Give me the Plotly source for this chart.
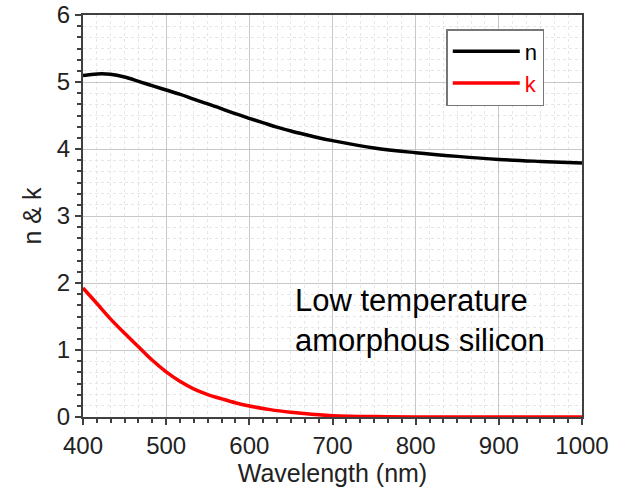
import plotly.graph_objects as go

wl_n = [400, 417, 433, 450, 467, 483, 500, 517, 533, 550, 567, 583, 600, 617, 633,
        650, 667, 683, 700, 750, 800, 850, 900, 950, 1000]
n_vals = [5.095, 5.12, 5.115, 5.075, 5.01, 4.945, 4.88, 4.815, 4.745, 4.673, 4.60, 4.527,
          4.457, 4.39, 4.327, 4.269, 4.216, 4.168, 4.125, 4.015, 3.945, 3.89, 3.845, 3.815, 3.79]

wl_k = [400, 417, 433, 450, 467, 483, 500, 517, 533, 550, 567, 583, 600, 625, 650,
        675, 700, 750, 800, 900, 1000]
k_vals = [1.925, 1.69, 1.465, 1.25, 1.045, 0.85, 0.675, 0.53, 0.42, 0.335, 0.27, 0.213,
          0.165, 0.11, 0.07, 0.04, 0.02, 0.006, 0.001, 0.0, 0.0]

x_ticks = [400, 500, 600, 700, 800, 900, 1000]
y_ticks = [0, 1, 2, 3, 4, 5, 6]

FONT = "Liberation Sans, Arial, sans-serif"

fig = go.Figure()
fig.add_trace(go.Scatter(x=wl_n, y=n_vals, mode="lines", name="n",
                         line=dict(color="black", width=3.5, shape="spline", smoothing=1)))
fig.add_trace(go.Scatter(x=wl_k, y=k_vals, mode="lines",
                         name="<span style='color:#ff0000'>k</span>",
                         line=dict(color="#ff0000", width=3.5, shape="spline", smoothing=1)))

fig.add_annotation(x=652, y=1.435, xref="x", yref="y", xanchor="left", yanchor="middle",
                   text="Low temperature<br>amorphous silicon", showarrow=False, align="left",
                   font=dict(family=FONT, size=31, color="black"))

axis_common = dict(
    showline=True, linecolor="#404040", linewidth=2, mirror=True,
    ticks="outside", ticklen=6, tickwidth=2, tickcolor="#404040",
    showgrid=True, gridcolor="#c8c8c8", gridwidth=1,
    tickfont=dict(family=FONT, size=24, color="#222"),
    zeroline=False, automargin=False,
)

fig.update_xaxes(range=[400, 1000], tickvals=x_ticks,
                 title=dict(text="Wavelength (nm)", font=dict(family=FONT, size=25, color="#222"), standoff=2),
                 minor=dict(dtick=100/6, tick0=400, ticks="outside", ticklen=4, tickcolor="#404040",
                            tickwidth=1.5, showgrid=True, gridcolor="#e6e6e6", griddash="dot"),
                 **axis_common)
fig.update_yaxes(range=[0, 6], tickvals=y_ticks,
                 title=dict(text="n & k", font=dict(family=FONT, size=25, color="#222"), standoff=8),
                 minor=dict(dtick=1/6, tick0=0, ticks="outside", ticklen=4, tickcolor="#404040",
                            tickwidth=1.5, showgrid=True, gridcolor="#e6e6e6", griddash="dot"),
                 **axis_common)

fig.update_layout(
    width=638, height=488,
    margin=dict(l=83, r=56, t=15, b=71),
    paper_bgcolor="white", plot_bgcolor="white",
    showlegend=True,
    legend=dict(x=0.728, y=0.965, xanchor="left", yanchor="top",
                bgcolor="white", bordercolor="#777", borderwidth=1.5,
                font=dict(family=FONT, size=22, color="black"),
                tracegroupgap=0, itemwidth=67),
)

fig.write_html("out.html")
